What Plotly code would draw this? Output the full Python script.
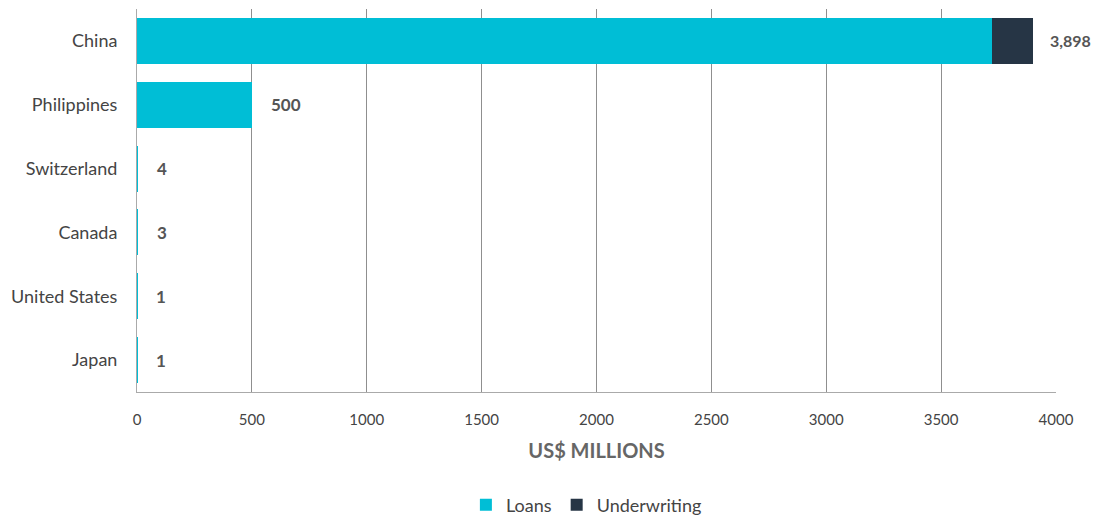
import plotly.graph_objects as go

countries = ["China", "Philippines", "Switzerland", "Canada", "United States", "Japan"]
loans = [3720, 500, 4, 3, 1, 1]
underwriting = [178, 0, 0, 0, 0, 0]
total_labels = ["3,898", "500", "4", "3", "1", "1"]
totals = [l + u for l, u in zip(loans, underwriting)]

FONT = "Lato"

fig = go.Figure()
fig.add_trace(go.Bar(y=countries, x=loans, name="Loans", orientation="h",
                     marker=dict(color="#00BED6", line=dict(width=0))))
fig.add_trace(go.Bar(y=countries, x=underwriting, name="Underwriting", orientation="h",
                     marker=dict(color="#263545", line=dict(width=0))))

for c, t, lab in zip(countries, totals, total_labels):
    fig.add_annotation(x=t, y=c, text="<b>" + lab + "</b>", showarrow=False,
                       xanchor="left", xshift=17 if t < 3000 else 15,
                       font=dict(family=FONT, size=17 if t < 3000 else 16, color="#555555"))

fig.update_layout(
    barmode="stack",
    bargap=0.28,
    width=1093, height=509,
    margin=dict(l=129, r=45, t=1, b=125, autoexpand=False),
    plot_bgcolor="white", paper_bgcolor="white",
    font=dict(family=FONT, size=15, color="#444444"),
    legend=dict(orientation="h", x=0.489, xanchor="center", y=-0.295, yanchor="middle",
                font=dict(size=18, color="#444444"), itemwidth=30, traceorder="normal"),
    xaxis=dict(range=[0, 4000], dtick=500, showgrid=True, gridcolor="#8f8f8f", gridwidth=1,
               zeroline=False, showline=True, linecolor="#aaaaaa", linewidth=1,
               ticks="", tickfont=dict(size=15, color="#444444"), automargin=False,
               ticklabelstandoff=14,
               title=dict(text="<b>US$ MILLIONS</b>", font=dict(size=20, color="#666666"), standoff=16)),
    yaxis=dict(autorange="reversed", showgrid=False, showline=True, linecolor="#aaaaaa", linewidth=1,
               ticks="", automargin=False, ticklabelstandoff=15,
               tickfont=dict(size=18, color="#444444")),
)

fig.write_html("out.html")
